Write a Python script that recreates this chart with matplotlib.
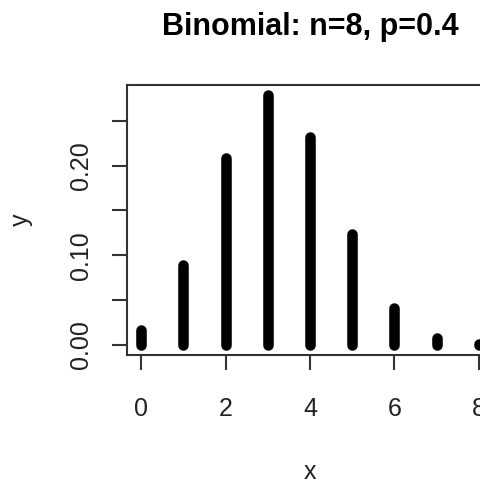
import matplotlib
matplotlib.use("Agg")
import matplotlib.pyplot as plt

x_vals = [0, 1, 2, 3, 4, 5, 6, 7, 8]
y_vals = [0.0168, 0.0896, 0.2090, 0.2787, 0.2322, 0.1239, 0.0413, 0.0079, 0.0007]
x_ticks = [0, 2, 4, 6, 8]
y_ticks = [0.00, 0.05, 0.10, 0.15, 0.20, 0.25]
y_tick_labels = ["0.00", "", "0.10", "", "0.20", ""]
title = "Binomial: n=8, p=0.4"

plt.rcParams['font.family'] = ['Liberation Sans', 'DejaVu Sans']

W, H = 481, 484
fig = plt.figure(figsize=(W / 100, H / 100), dpi=100)
ax = fig.add_axes([127.5 / W, 129 / H, 365 / W, 270 / H])

ax.vlines(x_vals, 0, y_vals, colors='black', linewidth=7.6, capstyle='round')

ax.set_xlim(-0.32, 8.32)
ax.set_ylim(-0.0111, 0.2899)
ax.set_xticks(x_ticks)
ax.set_yticks(y_ticks)
ax.set_yticklabels(y_tick_labels, rotation=90, va='center')
ax.tick_params(axis='both', direction='out', length=11, width=1.5, color='#333333',
               labelsize=18, labelcolor='#222222')
ax.tick_params(axis='x', pad=19)
ax.tick_params(axis='y', pad=14)
for s in ax.spines.values():
    s.set_linewidth(1.5)
    s.set_color('#333333')

ax.set_xlabel('x', fontsize=18, color='#222222', labelpad=28)
ax.set_ylabel('y', fontsize=18, color='#222222', labelpad=26)
ax.set_title(title, fontsize=22, fontweight='bold', pad=36)

fig.savefig('out.png', dpi=100)
